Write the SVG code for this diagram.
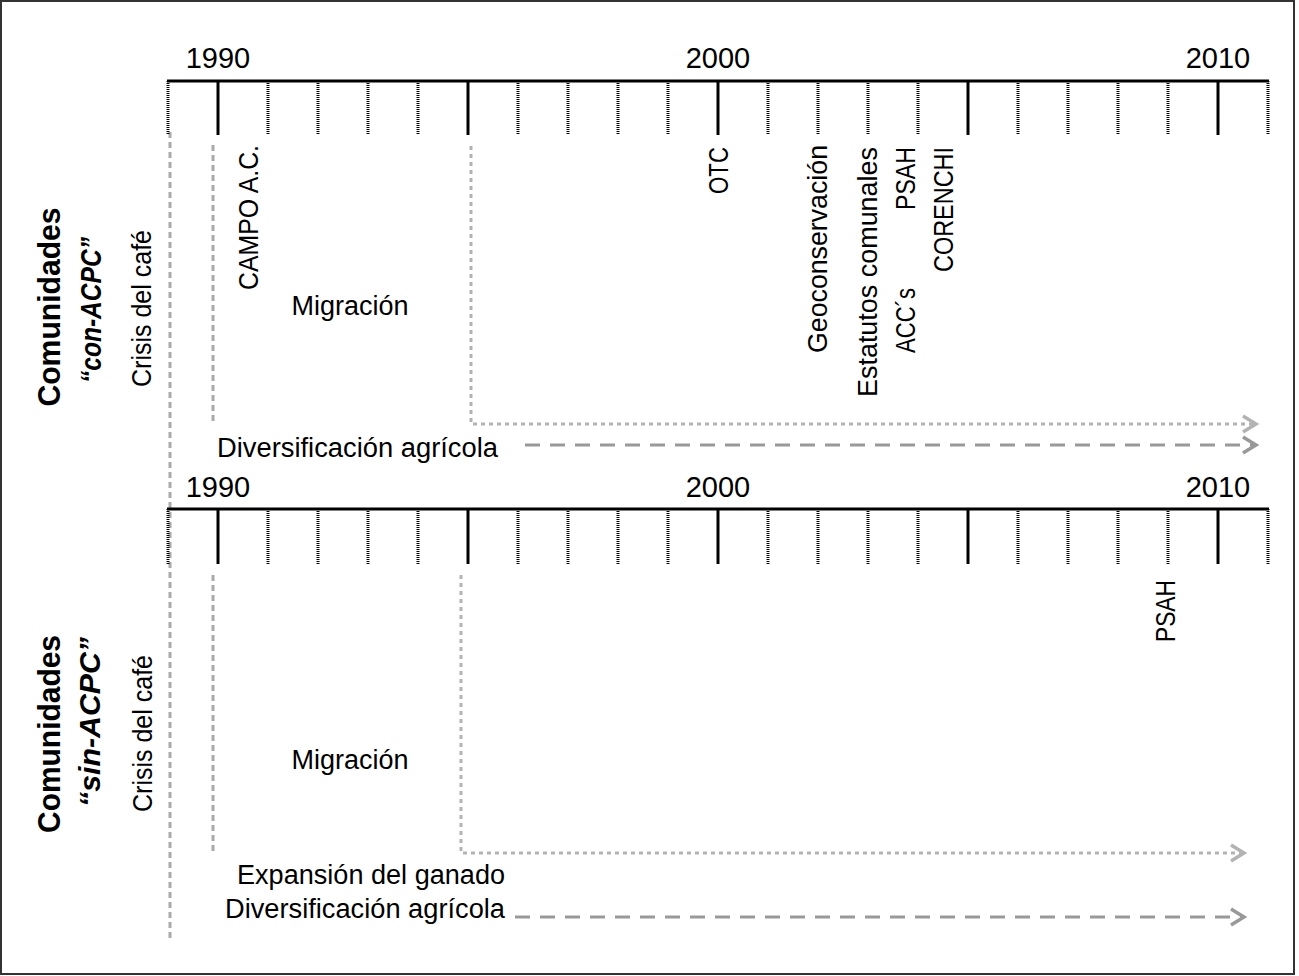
<svg xmlns="http://www.w3.org/2000/svg" width="1299" height="976" viewBox="0 0 1299 976">
<style>
text{font-family:"Liberation Sans",Arial,sans-serif;fill:#000;}
.yr{font-size:29px;text-anchor:middle;}
.lbl{font-size:27px;}
.big{font-size:31px;font-weight:bold;text-anchor:middle;}
.bigi{font-size:30px;font-weight:bold;font-style:italic;text-anchor:middle;}
.axis{stroke:#000;stroke-width:3;fill:none;}
.major{stroke:#000;stroke-width:3;}
.minor{stroke:#000;stroke-width:3;stroke-dasharray:1 1;}
.vline{stroke:#aaa;stroke-width:3;stroke-dasharray:6 4;fill:none;}
.dot{stroke:#b3b3b3;stroke-width:3;stroke-dasharray:4 4;fill:none;}
.dash{stroke:#999;stroke-width:3;stroke-dasharray:15 10;fill:none;}
.head1{stroke:#b3b3b3;stroke-width:3.5;fill:none;}
.head2{stroke:#999;stroke-width:3.5;fill:none;}
</style>
<rect x="1" y="1" width="1293" height="973" fill="#fff" stroke="#333" stroke-width="2"/>

<g id="connectors">
<line class="vline" x1="170" y1="132" x2="170" y2="942"/>
<line class="vline" x1="213" y1="145" x2="213" y2="423"/>
<path class="dot" d="M471,146 V424 H1254"/>
<path class="head1" d="M1243,416 L1256,424 L1243,432"/>
<line class="dash" x1="525" y1="445" x2="1254" y2="445"/>
<path class="head2" d="M1243,437 L1256,445 L1243,453"/>
<line class="vline" x1="213" y1="575" x2="213" y2="852"/>
<path class="dot" d="M461,575 V853 H1242"/>
<path class="head1" d="M1231,845 L1244,853 L1231,861"/>
<line class="dash" x1="515" y1="917" x2="1242" y2="917"/>
<path class="head2" d="M1231,909 L1244,917 L1231,925"/>
</g>

<g id="timeline-top">
<line class="axis" x1="167" y1="81" x2="1269" y2="81"/>
<g class="minor">
<line x1="168" y1="81" x2="168" y2="135"/><line x1="268" y1="81" x2="268" y2="135"/><line x1="318" y1="81" x2="318" y2="135"/><line x1="368" y1="81" x2="368" y2="135"/><line x1="418" y1="81" x2="418" y2="135"/>
<line x1="518" y1="81" x2="518" y2="135"/><line x1="568" y1="81" x2="568" y2="135"/><line x1="618" y1="81" x2="618" y2="135"/><line x1="668" y1="81" x2="668" y2="135"/>
<line x1="768" y1="81" x2="768" y2="135"/><line x1="818" y1="81" x2="818" y2="135"/><line x1="868" y1="81" x2="868" y2="135"/><line x1="918" y1="81" x2="918" y2="135"/>
<line x1="1018" y1="81" x2="1018" y2="135"/><line x1="1068" y1="81" x2="1068" y2="135"/><line x1="1118" y1="81" x2="1118" y2="135"/><line x1="1168" y1="81" x2="1168" y2="135"/><line x1="1268" y1="81" x2="1268" y2="135"/>
</g>
<g class="major">
<line x1="218" y1="81" x2="218" y2="135"/><line x1="468" y1="81" x2="468" y2="135"/><line x1="718" y1="81" x2="718" y2="135"/><line x1="968" y1="81" x2="968" y2="135"/><line x1="1218" y1="81" x2="1218" y2="135"/>
</g>
<text class="yr" x="218" y="68">1990</text>
<text class="yr" x="718" y="68">2000</text>
<text class="yr" x="1218" y="68">2010</text>
</g>

<g id="timeline-bottom">
<line class="axis" x1="167" y1="509" x2="1269" y2="509"/>
<g class="minor">
<line x1="168" y1="509" x2="168" y2="564"/><line x1="268" y1="509" x2="268" y2="564"/><line x1="318" y1="509" x2="318" y2="564"/><line x1="368" y1="509" x2="368" y2="564"/><line x1="418" y1="509" x2="418" y2="564"/>
<line x1="518" y1="509" x2="518" y2="564"/><line x1="568" y1="509" x2="568" y2="564"/><line x1="618" y1="509" x2="618" y2="564"/><line x1="668" y1="509" x2="668" y2="564"/>
<line x1="768" y1="509" x2="768" y2="564"/><line x1="818" y1="509" x2="818" y2="564"/><line x1="868" y1="509" x2="868" y2="564"/><line x1="918" y1="509" x2="918" y2="564"/>
<line x1="1018" y1="509" x2="1018" y2="564"/><line x1="1068" y1="509" x2="1068" y2="564"/><line x1="1118" y1="509" x2="1118" y2="564"/><line x1="1168" y1="509" x2="1168" y2="564"/><line x1="1268" y1="509" x2="1268" y2="564"/>
</g>
<g class="major">
<line x1="218" y1="509" x2="218" y2="564"/><line x1="468" y1="509" x2="468" y2="564"/><line x1="718" y1="509" x2="718" y2="564"/><line x1="968" y1="509" x2="968" y2="564"/><line x1="1218" y1="509" x2="1218" y2="564"/>
</g>
<text class="yr" x="218" y="497">1990</text>
<text class="yr" x="718" y="497">2000</text>
<text class="yr" x="1218" y="497">2010</text>
</g>

<g id="group-con">
<text class="big" transform="translate(60,307) rotate(-90)" textLength="199" lengthAdjust="spacingAndGlyphs">Comunidades</text>
<text class="bigi" transform="translate(101,310) rotate(-90)" textLength="146" lengthAdjust="spacingAndGlyphs">“con-ACPC”</text>
</g>
<g id="group-sin">
<text class="big" transform="translate(60,734) rotate(-90)" textLength="198" lengthAdjust="spacingAndGlyphs">Comunidades</text>
<text class="bigi" transform="translate(100,722) rotate(-90)" textLength="170" lengthAdjust="spacingAndGlyphs">“sin-ACPC”</text>
</g>

<g id="events-top">
<text class="lbl" transform="translate(151,308.5) rotate(-90)" text-anchor="middle" textLength="157" lengthAdjust="spacingAndGlyphs">Crisis del café</text>
<text class="lbl" transform="translate(258,145) rotate(-90)" text-anchor="end" textLength="145" lengthAdjust="spacingAndGlyphs">CAMPO A.C.</text>
<text class="lbl" x="350" y="315" text-anchor="middle">Migración</text>
<text class="lbl" transform="translate(728,147) rotate(-90)" text-anchor="end" textLength="47" lengthAdjust="spacingAndGlyphs">OTC</text>
<text class="lbl" transform="translate(827,145) rotate(-90)" text-anchor="end" textLength="208" lengthAdjust="spacingAndGlyphs">Geoconservación</text>
<text class="lbl" transform="translate(877,147) rotate(-90)" text-anchor="end" textLength="250" lengthAdjust="spacingAndGlyphs">Estatutos comunales</text>
<text class="lbl" transform="translate(915,147) rotate(-90)" text-anchor="end" textLength="63" lengthAdjust="spacingAndGlyphs">PSAH</text>
<text class="lbl" transform="translate(915,353) rotate(-90)" text-anchor="start" textLength="65" lengthAdjust="spacingAndGlyphs">ACC´s</text>
<text class="lbl" transform="translate(953,147) rotate(-90)" text-anchor="end" textLength="125" lengthAdjust="spacingAndGlyphs">CORENCHI</text>
<text class="lbl" x="217" y="457" textLength="281" lengthAdjust="spacingAndGlyphs">Diversificación agrícola</text>
</g>

<g id="events-bottom">
<text class="lbl" transform="translate(152,733.5) rotate(-90)" text-anchor="middle" textLength="157" lengthAdjust="spacingAndGlyphs">Crisis del café</text>
<text class="lbl" transform="translate(1175,580) rotate(-90)" text-anchor="end" textLength="62" lengthAdjust="spacingAndGlyphs">PSAH</text>
<text class="lbl" x="350" y="769" text-anchor="middle">Migración</text>
<text class="lbl" x="237" y="884" textLength="268" lengthAdjust="spacingAndGlyphs">Expansión del ganado</text>
<text class="lbl" x="225" y="918" textLength="280" lengthAdjust="spacingAndGlyphs">Diversificación agrícola</text>
</g>
</svg>
